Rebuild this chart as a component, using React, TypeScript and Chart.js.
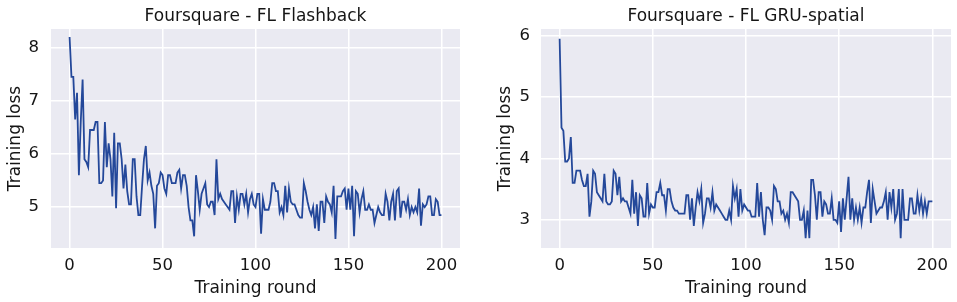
import React, { useEffect, useRef } from "react";
import { Chart, registerables } from "chart.js";
Chart.register(...registerables);

const rounds: number[] = Array.from({ length: 201 }, (_, i) => i);
const xTicks = [0, 50, 100, 150, 200];

const flashbackTitle = "Foursquare - FL Flashback";
const flashbackYTicks = [5, 6, 7, 8];
const flashbackLoss = [
  8.2, 7.45, 7.45, 6.65, 7.15, 5.6, 6.6, 7.4, 5.9, 5.85,
  5.75, 6.45, 6.45, 6.45, 6.6, 6.6, 5.45, 5.45, 5.5, 6.6,
  5.75, 6.2, 5.9, 5.2, 6.4, 4.98, 6.2, 6.2, 5.9, 5.35,
  5.8, 5.3, 5.05, 5.05, 5.9, 5.9, 5.2, 4.85, 4.85, 5.4,
  5.9, 6.15, 5.5, 5.65, 5.4, 5.25, 4.6, 5.4, 5.45, 5.65,
  5.6, 5.35, 5.25, 5.6, 5.6, 5.45, 5.45, 5.45, 5.65, 5.7,
  5.35, 5.6, 5.6, 5.4, 5.0, 4.75, 4.75, 4.45, 5.6, 5.3,
  4.95, 5.25, 5.35, 5.45, 5.05, 5.0, 5.1, 5.1, 4.85, 5.9,
  5.15, 5.25, 5.15, 5.1, 5.05, 5.0, 4.95, 5.3, 5.3, 4.7,
  5.2, 4.95, 5.25, 5.25, 5.05, 5.25, 4.9, 5.15, 5.25, 5.05,
  5.0, 5.25, 5.25, 4.5, 5.15, 4.95, 4.95, 4.95, 5.1, 5.45,
  5.45, 5.3, 5.3, 4.9, 5.0, 4.85, 5.4, 4.9, 5.35, 5.1,
  5.05, 5.05, 4.95, 4.85, 4.8, 4.8, 5.45, 5.3, 5.1, 4.95,
  4.85, 5.0, 4.6, 5.05, 4.55, 5.1, 5.1, 4.7, 5.2, 5.1,
  5.05, 4.9, 5.4, 4.4, 5.2, 5.2, 5.2, 5.3, 5.35, 4.95,
  5.35, 4.95, 5.4, 4.45, 5.3, 5.25, 4.9, 5.15, 5.3, 4.95,
  4.95, 5.05, 4.95, 4.95, 4.7, 4.85, 5.0, 4.9, 4.85, 4.85,
  5.25, 5.1, 4.75, 5.1, 5.25, 4.75, 5.3, 5.35, 4.8, 5.1,
  5.1, 4.95, 5.15, 4.85, 5.0, 4.9, 5.0, 4.9, 5.35, 4.65,
  5.05, 5.0, 5.05, 5.2, 5.2, 4.85, 4.85, 5.15, 5.1, 4.85,
  4.85,
];

const gruTitle = "Foursquare - FL GRU-spatial";
const gruYTicks = [3, 4, 5, 6];
const gruLoss = [
  5.95, 4.5, 4.45, 3.95, 3.95, 4.0, 4.35, 3.6, 3.6, 3.8,
  3.8, 3.8, 3.65, 3.55, 3.55, 3.75, 3.05, 3.3, 3.8, 3.75,
  3.45, 3.4, 3.35, 3.3, 3.75, 3.3, 3.25, 3.25, 3.3, 3.8,
  3.75, 3.4, 3.7, 3.3, 3.35, 3.3, 3.3, 3.2, 3.1, 3.65,
  3.1, 3.45, 2.9, 3.4, 3.35, 3.05, 3.05, 3.6, 3.1, 3.25,
  3.2, 3.2, 3.45, 3.45, 3.6, 3.4, 3.4, 3.15, 3.5, 3.5,
  3.3, 3.2, 3.15, 3.15, 3.1, 3.1, 3.1, 3.1, 3.4, 3.4,
  3.0, 3.35, 2.9, 3.2, 3.45, 3.3, 3.5, 2.95, 3.1, 3.35,
  3.35, 3.2, 3.45, 3.15, 3.25, 3.2, 3.15, 3.1, 3.05, 3.0,
  3.0, 3.15, 3.0, 3.55, 3.35, 3.5, 3.05, 3.5, 3.15, 3.25,
  3.2, 3.15, 3.15, 3.05, 3.05, 3.05, 3.6, 3.05, 3.45, 3.0,
  2.75, 3.2, 3.2, 3.15, 3.0, 3.55, 3.5, 3.3, 3.3, 3.1,
  3.15, 3.0, 3.1, 2.95, 3.45, 3.45, 3.4, 3.35, 3.3, 3.0,
  3.0, 3.15, 2.7, 3.15, 2.7, 3.65, 3.65, 3.4, 3.0, 3.45,
  3.45, 3.05, 3.3, 3.25, 3.1, 3.1, 3.35, 3.0, 3.0, 2.95,
  3.3, 2.8, 3.35, 3.0, 3.35, 3.7, 3.0, 3.35, 3.0, 3.2,
  3.0, 3.2, 2.95, 3.2, 3.2, 3.45, 3.65, 2.95, 3.5, 3.3,
  3.1, 3.15, 3.2, 3.2, 3.3, 3.45, 3.0, 3.45, 3.2, 3.5,
  3.0, 3.1, 3.5, 2.7, 3.5, 3.0, 3.0, 3.0, 3.35, 3.35,
  3.1, 3.1, 3.4, 3.15, 3.35, 3.1, 3.3, 3.1, 3.3, 3.3,
  3.3,
];

const FONT = "'DejaVu Sans', sans-serif";
const TEXT = "#151515";
const LINE = "#24489a";
const BG = "#EAEAF2";
const TICK_SIZE = 16.5;
const LABEL_SIZE = 17;

const bgPlugin = {
  id: "bgArea",
  beforeDraw(chart: any) {
    const { ctx, chartArea } = chart;
    if (!chartArea) return;
    ctx.save();
    ctx.fillStyle = BG;
    ctx.fillRect(chartArea.left, chartArea.top, chartArea.right - chartArea.left, chartArea.bottom - chartArea.top);
    ctx.restore();
  },
};

type PanelProps = {
  title: string;
  values: number[];
  yTicks: number[];
  yMin: number;
  yMax: number;
  yAxisWidth: number;
  yTitlePad: number;
  yTickPad: number;
  padRight: number;
  left: number;
  width: number;
};

function Panel(p: PanelProps) {
  const ref = useRef<HTMLCanvasElement | null>(null);
  useEffect(() => {
    if (!ref.current) return;
    const chart = new Chart(ref.current, {
      type: "line",
      data: {
        datasets: [
          {
            data: rounds.map((r, i) => ({ x: r, y: p.values[i] })),
            borderColor: LINE,
            borderWidth: 1.8,
            pointRadius: 0,
            tension: 0,
            fill: false,
          },
        ],
      },
      options: {
        animation: false,
        responsive: false,
        maintainAspectRatio: false,
        layout: { padding: { left: 0, right: p.padRight, top: 0, bottom: 0 } },
        plugins: {
          legend: { display: false },
          tooltip: { enabled: false },
          title: {
            display: true,
            fullSize: false,
            text: p.title,
            color: TEXT,
            font: { family: FONT, size: LABEL_SIZE, weight: "normal", lineHeight: 1.2 },
            padding: { top: 6.3, bottom: 2.3 },
          },
        },
        scales: {
          x: {
            type: "linear",
            min: -10,
            max: 210,
            afterBuildTicks: (s: any) => {
              s.ticks = xTicks.map((v) => ({ value: v }));
            },
            afterFit: (s: any) => {
              s.height = 54;
            },
            grid: { color: "#ffffff", lineWidth: 1.5, drawTicks: false },
            border: { display: false },
            ticks: {
              color: TEXT,
              font: { family: FONT, size: TICK_SIZE },
              padding: 8,
              maxRotation: 0,
              autoSkip: false,
            },
            title: {
              display: true,
              text: "Training round",
              color: TEXT,
              font: { family: FONT, size: LABEL_SIZE, lineHeight: 1.2 },
              padding: { top: 0, bottom: 3.5 },
            },
          },
          y: {
            type: "linear",
            min: p.yMin,
            max: p.yMax,
            afterBuildTicks: (s: any) => {
              s.ticks = p.yTicks.map((v) => ({ value: v }));
            },
            afterFit: (s: any) => {
              s.width = p.yAxisWidth;
            },
            grid: { color: "#ffffff", lineWidth: 1.5, drawTicks: false },
            border: { display: false },
            ticks: {
              color: TEXT,
              font: { family: FONT, size: TICK_SIZE },
              padding: p.yTickPad,
              autoSkip: false,
            },
            title: {
              display: true,
              text: "Training loss",
              color: TEXT,
              font: { family: FONT, size: LABEL_SIZE, lineHeight: 1.2 },
              padding: { top: p.yTitlePad, bottom: 0 },
            },
          },
        },
      },
      plugins: [bgPlugin],
    } as any);
    return () => chart.destroy();
  }, []);
  return (
    <div style={{ position: "absolute", left: p.left, top: 0, width: p.width, height: 302 }}>
      <canvas ref={ref} width={p.width} height={302} style={{ width: p.width, height: 302, display: "block" }} />
    </div>
  );
}

export default function App() {
  return (
    <div style={{ position: "fixed", left: 0, top: 0, width: 957, height: 302, background: "#ffffff", overflow: "hidden" }}>
      <Panel
        title={flashbackTitle}
        values={flashbackLoss}
        yTicks={flashbackYTicks}
        yMin={4.23}
        yMax={8.35}
        yAxisWidth={51}
        yTitlePad={5}
        yTickPad={12}
        padRight={18}
        left={0}
        width={478}
      />
      <Panel
        title={gruTitle}
        values={gruLoss}
        yTicks={gruYTicks}
        yMin={2.54}
        yMax={6.11}
        yAxisWidth={63}
        yTitlePad={17.6}
        yTickPad={11}
        padRight={6}
        left={478}
        width={479}
      />
    </div>
  );
}
